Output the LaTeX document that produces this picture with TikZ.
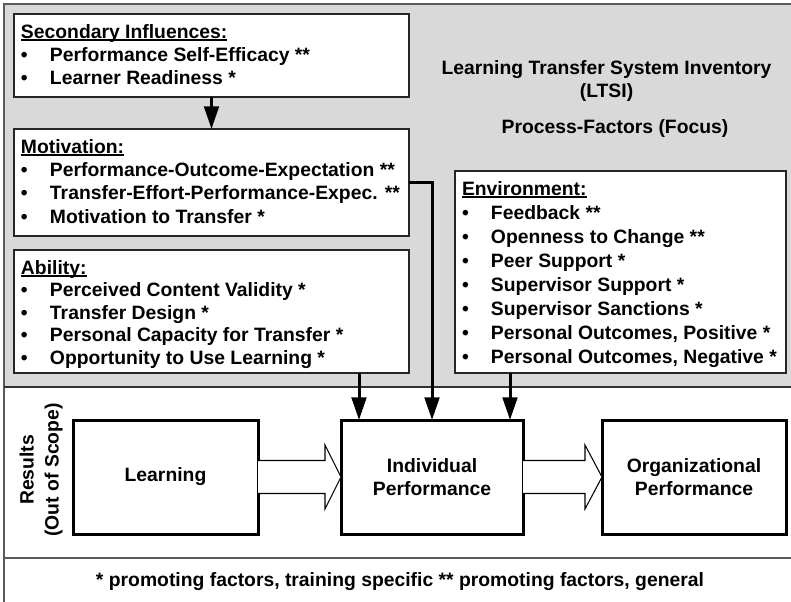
\documentclass[tikz,border=0pt]{standalone}
\usepackage{fontspec}
\setmainfont{Liberation Sans}
\usetikzlibrary{arrows.meta,calc}
\definecolor{bggray}{HTML}{D9D9D9}
\definecolor{framegray}{HTML}{5A5A5A}
\newlength\pxu \setlength\pxu{0.75pt}
\newsavebox\hbx
\newcommand\ulhead[1]{\leavevmode\sbox\hbx{#1}\rlap{\rule[-3\pxu]{\wd\hbx}{1.6\pxu}}\usebox\hbx}
\newcommand\bul{\makebox[29\pxu][l]{\textbullet}}
\newcommand\fs{\fontsize{14.5pt}{17.6pt}\selectfont\bfseries}
\tikzset{
  ubox/.style={draw=black!85, line width=1pt, fill=white, inner sep=0pt, outer sep=0pt},
  bbox/.style={draw=black, line width=2.25pt, fill=white, inner sep=0pt, outer sep=0pt,
               align=center, font=\fontsize{14.5pt}{17.25pt}\selectfont\bfseries},
  txt/.style={inner sep=0pt, outer sep=0pt, font=\fs},
  arr/.style={line width=2.25pt, -{Triangle[length=17pt,width=11pt]}},
  hol/.style={draw=black, line width=0.8pt, fill=white, line join=miter},
  frame/.style={draw=framegray, line width=1.5pt}
}
\begin{document}
\begin{tikzpicture}[x=0.75pt,y=-0.75pt]
\clip (0,0) rectangle (791,601);
% background regions
\fill[bggray] (4,4) rectangle (800,387);
\draw[frame] (4,610) -- (4,4) -- (800,4);
\draw[draw=black!80, line width=1.5pt] (4,387) -- (800,387);
\draw[frame] (4,558) -- (800,558);

% upper boxes
\node[ubox, minimum width=296.25pt, minimum height=62.25pt] (sec) at (211.5,55.5) {};
\node[ubox, minimum width=296.25pt, minimum height=80.25pt] (mot) at (211.5,182.5) {};
\node[ubox, minimum width=296.25pt, minimum height=92.25pt] (abl) at (211.5,311.5) {};
\node[ubox, minimum width=248.25pt, minimum height=151.5pt] (env) at (620.5,272) {};

\node[txt, anchor=base west] (sect) at (21,38) {\parbox[t]{300pt}{\noindent\ulhead{Secondary Influences:}\\
  \bul Performance Self-Efficacy **\\
  \bul Learner Readiness *}};
\node[txt, anchor=base west] (mott) at (21,153) {\parbox[t]{300pt}{\noindent\ulhead{Motivation:}\\
  \bul Performance-Outcome-Expectation **\\
  \bul Transfer-Effort-Performance-Expec. **\\
  \bul Motivation to Transfer *}};
\node[txt, anchor=base west] (ablt) at (21,274) {\parbox[t]{300pt}{\fontsize{14.5pt}{16.9pt}\selectfont\noindent\ulhead{Ability:}\\
  \bul Perceived Content Validity *\\
  \bul Transfer Design *\\
  \bul Personal Capacity for Transfer *\\
  \bul Opportunity to Use Learning *}};
\node[txt, anchor=base west] (envt) at (462,195) {\parbox[t]{250pt}{\fontsize{14.5pt}{18pt}\selectfont\noindent\ulhead{Environment:}\\
  \bul Feedback **\\
  \bul Openness to Change **\\
  \bul Peer Support *\\
  \bul Supervisor Support *\\
  \bul Supervisor Sanctions *\\
  \bul Personal Outcomes, Positive *\\
  \bul Personal Outcomes, Negative *}};

% title
\node[txt, anchor=base] (title1) at (606.5,74) {Learning Transfer System Inventory};
\node[txt, anchor=base] (title2) at (606.5,97) {(LTSI)};
\node[txt, anchor=base] (title3) at (615,133) {Process-Factors (Focus)};

% results section
\node[txt, rotate=90, align=center, font=\fontsize{14.5pt}{18.75pt}\selectfont\bfseries] (res) at (41,470) {Results\\(Out of Scope)};
\node[bbox, minimum width=138.75pt, minimum height=85.5pt] (learn) at (165.5,477) {Learning};
\node[bbox, minimum width=136.5pt, minimum height=85.5pt] (ind) at (432,477) {Individual\\Performance};
\node[bbox, minimum width=138pt, minimum height=85.5pt] (org) at (694,477) {Organizational\\Performance};

% hollow arrows
\draw[hol] ($(learn.east)+(0,-16.5)$) -- ($(ind.west)+(-16,-16.5)$) -- ($(ind.west)+(-16,-32)$)
  -- (ind.west) -- ($(ind.west)+(-16,32)$) -- ($(ind.west)+(-16,16.5)$) -- ($(learn.east)+(0,16.5)$);
\draw[hol] ($(ind.east)+(0,-16.5)$) -- ($(org.west)+(-17,-16.5)$) -- ($(org.west)+(-17,-32)$)
  -- (org.west) -- ($(org.west)+(-17,32)$) -- ($(org.west)+(-17,16.5)$) -- ($(ind.east)+(0,16.5)$);

% connectors
\coordinate (t1) at ($(ind.north west)+(18,0)$);
\coordinate (t3) at ($(ind.north west)+(169,0)$);
\draw[arr] (sec.south) -- (mot.north);
\draw[arr] (t1 |- abl.south) -- (t1);
\draw[arr] (mot.east) -| (ind.north);
\draw[arr] (t3 |- env.south) -- (t3);

% footer
\node[txt, anchor=base] (foot) at (400,586) {* promoting factors, training specific ** promoting factors, general};
\end{tikzpicture}
\end{document}
